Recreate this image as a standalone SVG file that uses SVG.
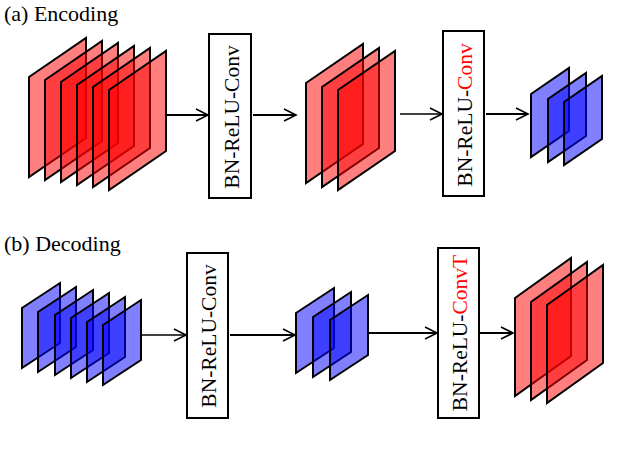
<svg xmlns="http://www.w3.org/2000/svg" width="638" height="454" viewBox="0 0 638 454">
<style>
.r{fill:#ff0000;fill-opacity:0.5;stroke:#000;stroke-width:2;stroke-linejoin:miter}
.b{fill:#0000ff;fill-opacity:0.5;stroke:#000;stroke-width:2}
.box{fill:#fff;stroke:#000;stroke-width:2}
.t{font-family:"Liberation Serif",serif;font-size:21.5px;fill:#000}
.h{font-family:"Liberation Serif",serif;font-size:22px;fill:#000}
.a{stroke:#000;fill:none;marker-end:url(#ar)}
</style>
<defs>
<marker id="ar" markerUnits="userSpaceOnUse" markerWidth="16" markerHeight="16" refX="14" refY="8" orient="auto">
<path d="M2,2 L14,8 L2,14" fill="none" stroke="#000" stroke-width="1.6"/>
</marker>
<path id="bigR" d="M0,0 l57,-39 l0,100 l-57,39 z"/>
<path id="smB" d="M0,0 l38,-26 l0,63 l-38,26 z"/>
<path id="decB" d="M0,0 l38,-25 l0,60 l-38,25 z"/>
<path id="decR" d="M0,0 l56,-40 l0,98 l-56,40 z"/>
</defs>
<text class="h" x="4" y="21">(a) Encoding</text>
<text class="h" x="4" y="251">(b) Decoding</text>
<g id="connectors">
<line class="a" x1="166" y1="115" x2="208" y2="115" stroke-width="2"/>
<line class="a" x1="253" y1="115" x2="296" y2="115" stroke-width="2"/>
<line class="a" x1="400" y1="114" x2="442" y2="114" stroke-width="1.3"/>
<line class="a" x1="486" y1="114" x2="528" y2="114" stroke-width="2.2"/>
<line class="a" x1="142" y1="335" x2="186" y2="335" stroke-width="1.3"/>
<line class="a" x1="230" y1="335" x2="295" y2="335" stroke-width="2"/>
<line class="a" x1="368" y1="333" x2="437" y2="333" stroke-width="2"/>
<line class="a" x1="480" y1="333" x2="513" y2="333" stroke-width="2"/>
</g>
<g id="enc-input">
<use href="#bigR" class="r" x="29" y="77"/>
<use href="#bigR" class="r" x="45" y="80"/>
<use href="#bigR" class="r" x="61" y="82"/>
<use href="#bigR" class="r" x="77" y="85"/>
<use href="#bigR" class="r" x="93" y="87"/>
<use href="#bigR" class="r" x="109" y="90"/>
</g>
<g id="enc-conv1">
<rect class="box" x="209" y="34" width="42" height="164"/>
<text class="t" transform="translate(238.5,117) rotate(-90)" text-anchor="middle">BN-ReLU-Conv</text>
</g>
<g id="enc-mid">
<use href="#bigR" class="r" x="306" y="83"/>
<use href="#bigR" class="r" x="322" y="87"/>
<use href="#bigR" class="r" x="338" y="90"/>
</g>
<g id="enc-conv2">
<rect class="box" x="443" y="31" width="41" height="165"/>
<text class="t" transform="translate(472,115) rotate(-90)" text-anchor="middle">BN-ReLU-<tspan fill="#ff0000">Conv</tspan></text>
</g>
<g id="enc-out">
<use href="#smB" class="b" x="531" y="94"/>
<use href="#smB" class="b" x="548" y="99"/>
<use href="#smB" class="b" x="564" y="102"/>
</g>
<g id="dec-input">
<use href="#decB" class="b" x="22" y="308"/>
<use href="#decB" class="b" x="38" y="312"/>
<use href="#decB" class="b" x="55" y="315"/>
<use href="#decB" class="b" x="71" y="318"/>
<use href="#decB" class="b" x="87" y="322"/>
<use href="#decB" class="b" x="103" y="325"/>
</g>
<g id="dec-conv1">
<rect class="box" x="187" y="253" width="41" height="165"/>
<text class="t" transform="translate(216,336) rotate(-90)" text-anchor="middle">BN-ReLU-Conv</text>
</g>
<g id="dec-mid">
<use href="#decB" class="b" x="296" y="313"/>
<use href="#decB" class="b" x="313" y="317"/>
<use href="#decB" class="b" x="330" y="320"/>
</g>
<g id="dec-conv2">
<rect class="box" x="438" y="248" width="41" height="170"/>
<text class="t" transform="translate(467,333) rotate(-90)" text-anchor="middle">BN-ReLU-<tspan fill="#ff0000">ConvT</tspan></text>
</g>
<g id="dec-out">
<use href="#decR" class="r" x="515" y="298"/>
<use href="#decR" class="r" x="531" y="302"/>
<use href="#decR" class="r" x="547" y="305"/>
</g>
</svg>
